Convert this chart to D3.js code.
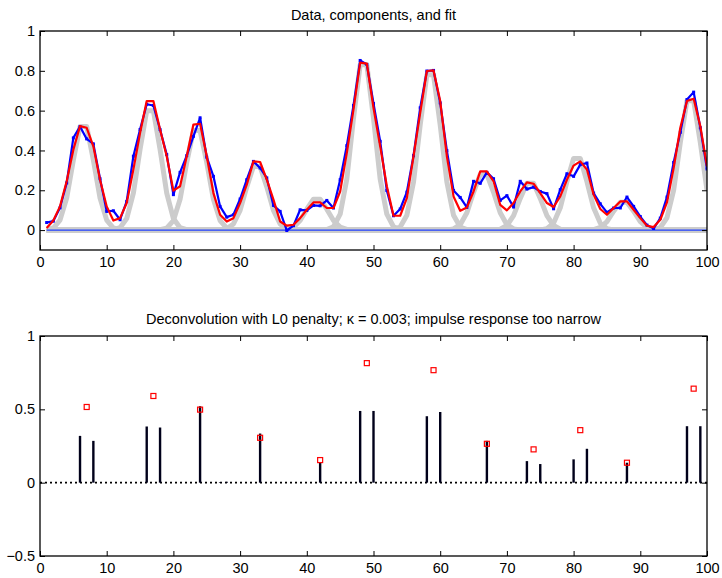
<!DOCTYPE html>
<html><head><meta charset="utf-8">
<script src="https://cdn.jsdelivr.net/npm/d3@7"></script>
<style>
body{margin:0;background:#fff;}
svg{display:block;font-family:"Liberation Sans",Arial,Helvetica,sans-serif;}
.tick text{font-size:14.5px;fill:#000;}
</style></head>
<body><svg id="c" width="722" height="578"></svg>
<script>
// ---------- data ----------
const dataY = [0.038,0.045,0.112,0.237,0.463,0.52,0.458,0.433,0.258,0.094,
0.097,0.052,0.144,0.371,0.505,0.632,0.626,0.505,0.379,0.178,
0.29,0.374,0.471,0.564,0.366,0.27,0.119,0.065,0.077,0.156,
0.253,0.345,0.312,0.262,0.124,0.094,-0.002,0.022,0.102,0.099,
0.124,0.122,0.149,0.111,0.253,0.424,0.626,0.852,0.832,0.636,
0.446,0.199,0.072,0.106,0.191,0.374,0.614,0.799,0.802,0.639,
0.399,0.199,0.164,0.114,0.245,0.235,0.29,0.258,0.149,0.173,
0.116,0.245,0.206,0.216,0.194,0.183,0.107,0.203,0.283,0.27,
0.329,0.337,0.186,0.132,0.089,0.111,0.111,0.166,0.119,0.068,
0.025,0.008,0.06,0.166,0.34,0.491,0.656,0.693,0.514,0.307];

const fitY = [0.01,0.048,0.119,0.245,0.404,0.522,0.514,0.421,0.253,0.119,
0.048,0.06,0.136,0.304,0.488,0.648,0.648,0.505,0.371,0.198,
0.22,0.371,0.53,0.534,0.371,0.186,0.077,0.043,0.06,0.136,
0.228,0.345,0.342,0.253,0.153,0.043,0.022,0.027,0.06,0.102,
0.139,0.139,0.111,0.111,0.194,0.388,0.606,0.841,0.836,0.614,
0.421,0.22,0.072,0.072,0.161,0.371,0.589,0.799,0.802,0.648,
0.371,0.169,0.097,0.114,0.194,0.295,0.295,0.245,0.127,0.099,
0.136,0.194,0.24,0.233,0.186,0.136,0.116,0.169,0.253,0.324,
0.345,0.304,0.178,0.106,0.077,0.111,0.144,0.144,0.102,0.06,
0.022,0.015,0.052,0.139,0.312,0.514,0.648,0.66,0.522,0.32];

// gray components: first sample index and sampled values
const compStart = [1,11,18,27,36,43,53,61,68,75,82,92];
const compValues = [
 [0.0016,0.0104,0.050,0.161,0.352,0.52,0.52,0.352,0.161,0.050,0.0104,0.0016],
 [0.0018,0.012,0.058,0.186,0.406,0.6,0.6,0.406,0.186,0.058,0.012,0.0018],
 [0.0015,0.01,0.048,0.155,0.339,0.5,0.5,0.339,0.155,0.048,0.01,0.0015],
 [0.001,0.0064,0.031,0.099,0.217,0.32,0.32,0.217,0.099,0.031,0.0064,0.001],
 [0.0005,0.0031,0.015,0.048,0.105,0.155,0.155,0.105,0.048,0.015,0.0031,0.0005],
 [0.0025,0.0166,0.080,0.257,0.562,0.83,0.83,0.562,0.257,0.080,0.0166,0.0025],
 [0.0023,0.0156,0.075,0.242,0.528,0.78,0.78,0.528,0.242,0.075,0.0156,0.0023],
 [0.0008,0.0056,0.027,0.087,0.190,0.28,0.28,0.190,0.087,0.027,0.0056,0.0008],
 [0.0007,0.0047,0.023,0.073,0.159,0.235,0.235,0.159,0.073,0.023,0.0047,0.0007],
 [0.0011,0.0072,0.035,0.112,0.244,0.36,0.36,0.244,0.112,0.035,0.0072,0.0011],
 [0.0004,0.0028,0.013,0.043,0.095,0.14,0.14,0.095,0.043,0.013,0.0028,0.0004],
 [0.002,0.013,0.062,0.2,0.44,0.65,0.65,0.44,0.2]
];

const stemX = [6,8,16,18,24,27,28,33,42,48,50,58,60,67,73,75,80,82,88,97,99];
const stemY = [0.319,0.285,0.383,0.376,0.521,0.004,0.006,0.335,0.138,0.489,0.489,0.453,0.482,0.285,0.147,0.127,0.159,0.231,0.136,0.385,0.385];

const trueX = [7,17,24,33,42,49,59,67,74,81,88,98];
const trueY = [0.516,0.591,0.498,0.306,0.154,0.815,0.767,0.265,0.227,0.358,0.136,0.641];

const xTicks = [0,10,20,30,40,50,60,70,80,90,100];
const yTicksTop = [0,0.2,0.4,0.6,0.8,1];
const yTicksBot = [-0.5,0,0.5,1];
const title1 = "Data, components, and fit";
const title2 = "Deconvolution with L0 penalty; \u03BA = 0.003; impulse response too narrow";

// ---------- drawing ----------
const svg = d3.select("#c");
const L = 40, R = 707;
const P1 = {top:31, bottom:250};
const P2 = {top:336, bottom:556};
const N = dataY.length;
const idx = d3.range(1, N + 1);

function frame(g, x, y, yTicks, yFmt) {
  const h = y.range()[0] - y.range()[1];
  const w = x.range()[1] - x.range()[0];
  const tl = 5;
  const b = g.append("g").attr("transform", `translate(0,${y.range()[0]})`)
    .call(d3.axisBottom(x).tickValues(xTicks).tickSizeInner(-tl).tickSizeOuter(0).tickPadding(7).tickFormat(d3.format("d")));
  const t = g.append("g").attr("transform", `translate(0,${y.range()[1]})`)
    .call(d3.axisTop(x).tickValues(xTicks).tickSizeInner(-tl).tickSizeOuter(0).tickFormat(""));
  const l = g.append("g").attr("transform", `translate(${L},0)`)
    .call(d3.axisLeft(y).tickValues(yTicks).tickSizeInner(-tl).tickSizeOuter(0).tickPadding(5).tickFormat(yFmt));
  const r = g.append("g").attr("transform", `translate(${R},0)`)
    .call(d3.axisRight(y).tickValues(yTicks).tickSizeInner(-tl).tickSizeOuter(0).tickFormat(""));
  [b,t,l,r].forEach(a => {
    a.select(".domain").remove();
    a.selectAll(".tick line").attr("stroke", "#000").attr("stroke-width", 1);
    a.selectAll(".tick text").style("font-size", "14.5px").attr("fill", "#000");
  });
  g.append("rect").attr("x", x.range()[0]).attr("y", y.range()[1])
    .attr("width", w).attr("height", h)
    .attr("fill", "none").attr("stroke", "#000").attr("stroke-width", 1.3);
}
const fmt = d => (d === 0 ? "0" : d3.format("")(d)).replace("-", "\u2212");

// Top panel
const x1 = d3.scaleLinear().domain([0, 100]).range([L, R]);
const y1 = d3.scaleLinear().domain([-0.1, 1]).range([P1.bottom, P1.top]);
const g1 = svg.append("g");
svg.append("clipPath").attr("id", "cl1").append("rect")
  .attr("x", L).attr("y", P1.top).attr("width", R - L).attr("height", P1.bottom - P1.top);
const plot1 = g1.append("g").attr("clip-path", "url(#cl1)");
const line1 = d3.line().x(d => x1(d[0])).y(d => y1(d[1]));

compValues.forEach((vals, k) => {
  const full = idx.map(i => {
    const j = i - compStart[k];
    return [i, (j >= 0 && j < vals.length) ? vals[j] : 0];
  });
  plot1.append("path").attr("d", line1(full)).attr("fill", "none")
    .attr("stroke", "#cccccc").attr("stroke-width", 5).attr("stroke-linejoin", "round");
});
plot1.append("path").attr("d", line1([[1, 0], [N, 0]])).attr("stroke", "#1f3fff")
  .attr("stroke-width", 1.2).attr("fill", "none");
const dataPts = idx.map((i, k) => [i, dataY[k]]);
plot1.append("path").attr("d", line1(dataPts)).attr("fill", "none")
  .attr("stroke", "#0000ff").attr("stroke-width", 2.2).attr("stroke-linejoin", "round");
plot1.selectAll("rect.dot").data(dataPts).enter().append("rect")
  .attr("x", d => x1(d[0]) - 1.5).attr("y", d => y1(d[1]) - 1.5)
  .attr("width", 3).attr("height", 3).attr("fill", "#0000ff");
const fitPts = idx.map((i, k) => [i, fitY[k]]);
plot1.append("path").attr("d", line1(fitPts)).attr("fill", "none")
  .attr("stroke", "#ff0000").attr("stroke-width", 2.2).attr("stroke-linejoin", "round");
frame(g1, x1, y1, yTicksTop, fmt);
g1.append("text").attr("x", (L + R) / 2).attr("y", 20).attr("text-anchor", "middle")
  .style("font-size", "14.5px").text(title1);

// Bottom panel
const x2 = d3.scaleLinear().domain([0, 100]).range([L, R]);
const y2 = d3.scaleLinear().domain([-0.5, 1]).range([P2.bottom, P2.top]);
const g2 = svg.append("g");
g2.append("line").attr("x1", x2(0)).attr("x2", x2(100)).attr("y1", y2(0)).attr("y2", y2(0))
  .attr("stroke", "#000").attr("stroke-width", 1.6).attr("stroke-dasharray", "2,3");
g2.selectAll("line.stem").data(stemX.map((v, k) => [v, stemY[k]])).enter().append("line")
  .attr("x1", d => x2(d[0])).attr("x2", d => x2(d[0]))
  .attr("y1", y2(0)).attr("y2", d => y2(d[1]))
  .attr("stroke", "#00001a").attr("stroke-width", 2.4);
g2.selectAll("rect.sq").data(trueX.map((v, k) => [v, trueY[k]])).enter().append("rect")
  .attr("x", d => x2(d[0]) - 2.5).attr("y", d => y2(d[1]) - 2.5)
  .attr("width", 5).attr("height", 5).attr("fill", "none")
  .attr("stroke", "#ff0000").attr("stroke-width", 1.2);
frame(g2, x2, y2, yTicksBot, fmt);
g2.append("text").attr("x", (L + R) / 2).attr("y", 324).attr("text-anchor", "middle")
  .style("font-size", "14.5px").text(title2);
</script></body></html>
